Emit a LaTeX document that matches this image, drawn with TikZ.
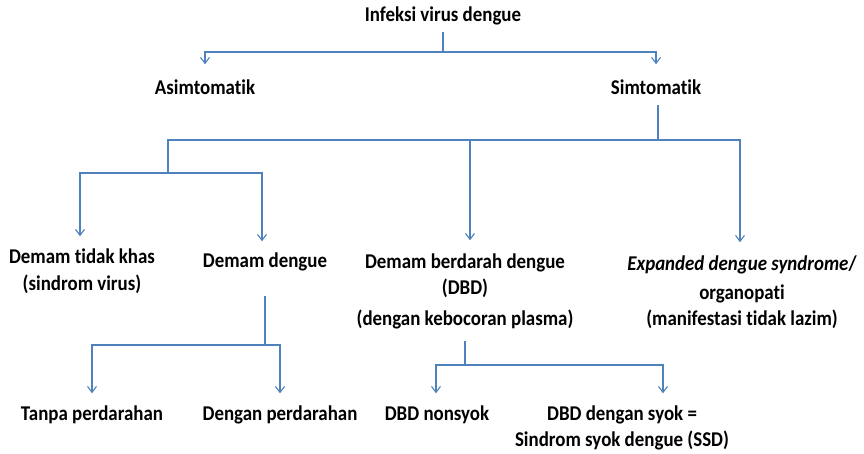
\documentclass[tikz,border=0pt]{standalone}
\usepackage{fontspec}
\setmainfont{Carlito}[FakeStretch=0.9,Ligatures=NoCommon]
\usetikzlibrary{arrows.meta}
\definecolor{linkblue}{RGB}{79,129,189}
\begin{document}
\begin{tikzpicture}[x=1pt,y=-1pt,
  lbl/.style={font=\bfseries\fontsize{21}{26}\selectfont, align=center,
    inner sep=0pt, outer sep=0pt, anchor=base},
  link/.style={draw=linkblue, line width=1.1pt},
  arr/.style={link, -{Straight Barb[length=6pt,width=9pt]}}]
\useasboundingbox (0,0) rectangle (864,454);

% labels (multi-line labels sit on the baseline of their last line)
\node[lbl] (top)  at (443,22)  {Infeksi virus dengue};
\node[lbl] (asim) at (205,95)  {Asimtomatik};
\node[lbl] (sim)  at (656,95)  {Simtomatik};
\node[lbl] (dtk)  at (82,290)  {Demam tidak khas\\(sindrom virus)};
\node[lbl] (dd)   at (265,267) {Demam dengue};
\node[lbl] (dbd)  at (465,325) {Demam berdarah dengue\\(DBD)\\[5pt](dengan kebocoran plasma)};
\node[lbl] (eds)  at (742,325) {\textit{Expanded dengue syndrome}/\\[3pt]organopati\\(manifestasi tidak lazim)};
\node[lbl] (tp)   at (92,420)  {Tanpa perdarahan};
\node[lbl] (dp)   at (280,420) {Dengan perdarahan};
\node[lbl] (dn)   at (437,420) {DBD nonsyok};
\node[lbl] (ds)   at (622,446) {DBD dengan syok =\\Sindrom syok dengue (SSD)};

% junction points
\coordinate (j0) at (443,52);
\coordinate (j1) at (658,140);
\coordinate (j2) at (168,140);
\coordinate (j3) at (168,173);
\coordinate (j4) at (265,345);
\coordinate (j5) at (465,365);

% top level
\draw[link] ([yshift=-6pt]top.south -| j0) -- (j0);
\draw[arr] (j0) -| ([yshift=16pt]asim.north);
\draw[arr] (j0) -| ([yshift=16pt]sim.north);

% symptomatic branch
\draw[link] ([yshift=-10pt]sim.south -| j1) -- (j1) -- (j2) -- (j3);
\draw[arr] (j3) -| ([yshift=13pt,xshift=-2pt]dtk.north);
\draw[arr] (j3) -| ([yshift=11pt,xshift=-3pt]dd.north);
\draw[arr] (j1) -| ([yshift=13pt,xshift=5pt]dbd.north);
\draw[arr] (j1) -| ([yshift=13pt,xshift=-2pt]eds.north);

% dengue fever branch
\draw[link] ([yshift=-25pt]dd.south) -- (j4);
\draw[arr] (j4) -| ([yshift=12pt]tp.north);
\draw[arr] (j4) -| ([yshift=12pt]dp.north);

% DHF branch
\draw[link] ([yshift=-12pt]dbd.south) -- (j5);
\draw[arr] (j5) -| ([yshift=12pt,xshift=-1pt]dn.north);
\draw[arr] (j5) -| ([yshift=12pt,xshift=41pt]ds.north);
\end{tikzpicture}
\end{document}
